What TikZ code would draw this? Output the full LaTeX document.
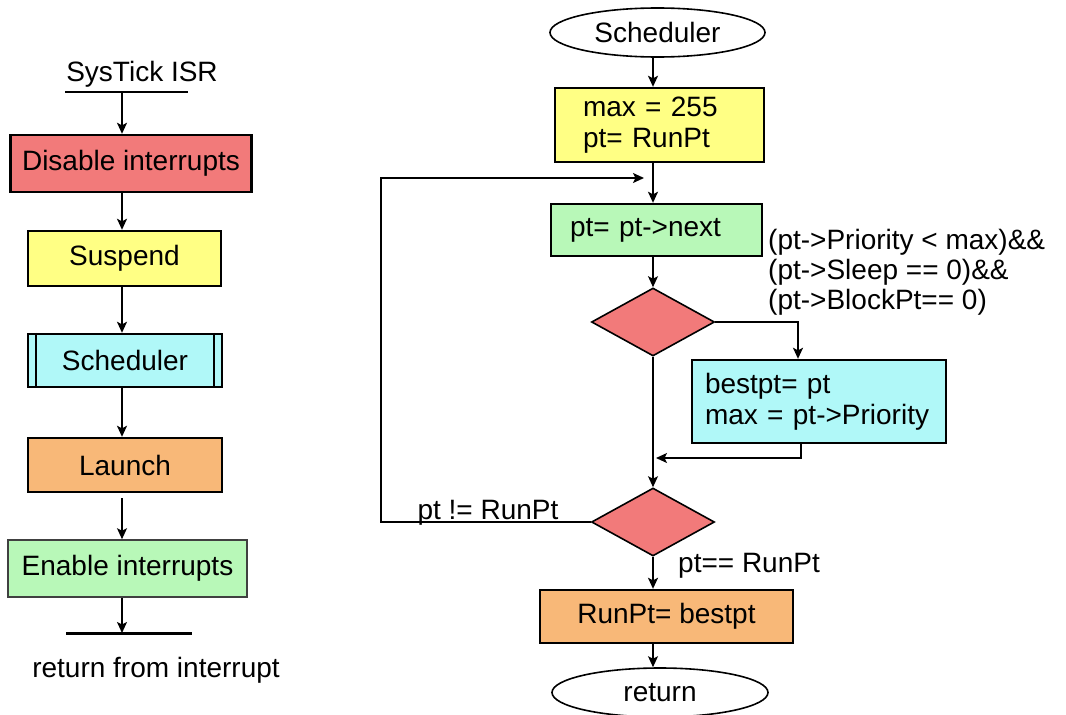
\documentclass[tikz,border=0pt]{standalone}
\usepackage{fontspec}
\setmainfont{Liberation Sans}
\usetikzlibrary{shapes.geometric,arrows.meta}

\definecolor{boxred}{HTML}{F27A7A}
\definecolor{boxyellow}{HTML}{FFFF84}
\definecolor{boxcyan}{HTML}{B0F8F8}
\definecolor{boxorange}{HTML}{F8B878}
\definecolor{boxgreen}{HTML}{B8F8B8}

\begin{document}
\begin{tikzpicture}[x=1pt,y=-1pt,
  every node/.style={font=\fontsize{28}{31}\selectfont, inner sep=0pt},
  flowbox/.style={rectangle, draw=black, line width=2.4pt},
  decision/.style={diamond, draw=black, line width=1.6pt, fill=boxred,
                   minimum width=123, minimum height=68},
  terminal/.style={ellipse, draw=black, line width=1.6pt,
                   minimum width=215, minimum height=49},
  conn/.style={line width=1.6pt},
  arr/.style={conn, -{Stealth[length=11pt,width=10pt,inset=2.5pt]}}]

\useasboundingbox (0,0) rectangle (1066,715);

% column axes
\coordinate (axL) at (122,0);
\coordinate (axR) at (653,0);

% ---------------- SysTick interrupt service routine ----------------
\node (isr) at (142,74) {SysTick ISR};
\coordinate (isrA) at (65,92);
\coordinate (isrB) at (188,92);
\draw[conn] (isrA) -- (isrB);

\node[flowbox, fill=boxred, minimum width=241, minimum height=57]
  (dis) at (131,163.5) {Disable interrupts};
\node[flowbox, fill=boxyellow, minimum width=193, minimum height=55]
  (sus) at (124.5,258.5) {Suspend};
\node[flowbox, fill=boxcyan, minimum width=194, minimum height=53]
  (sch) at (125,360.5) {Scheduler};
\draw[line width=2pt] ([xshift=9pt]sch.north west) -- ([xshift=9pt]sch.south west);
\draw[line width=2pt] ([xshift=-9pt]sch.north east) -- ([xshift=-9pt]sch.south east);
\node[flowbox, fill=boxorange, minimum width=194, minimum height=54]
  (lau) at (125,465) {Launch};
\node[flowbox, draw=black!75, line width=1.6pt, fill=boxgreen,
      minimum width=239, minimum height=57]
  (ena) at (127.5,568.5) {Enable interrupts};
\coordinate (retA) at (66,633);
\coordinate (retB) at (192,633);
\draw[line width=3pt] (retA) -- (retB);
\node (rti) at (156,670) {return from interrupt};

\draw[arr] (isrA -| axL) -- (dis.north -| axL);
\draw[arr] (dis.south -| axL) -- (sus.north -| axL);
\draw[arr] (sus.south -| axL) -- (sch.north -| axL);
\draw[arr] (sch.south -| axL) -- (lau.north -| axL);
\draw[arr] ([yshift=-5pt]lau.south -| axL) -- (ena.north -| axL);
\draw[arr] (ena.south -| axL) -- (retA -| axL);

% ---------------- Scheduler ----------------
\node[terminal] (sst) at (657.5,32.5) {Scheduler};
\node[flowbox, fill=boxyellow, minimum height=74, inner xsep=28pt,
      text width=153pt, align=left]
  (init) at (659.5,125) {max = 255\\pt= RunPt};
\coordinate (join) at (644,178);
\node[flowbox, fill=boxgreen, minimum height=52, inner xsep=19pt,
      text width=173pt, align=left]
  (nxt) at (656.5,230) {\mbox{pt= pt->next}};
\node[decision] (d1) at (653,322) {};
\node[anchor=north west, align=left, font=\fontsize{28}{30}\selectfont]
  (cond) at (768,229)
  {(pt->Priority < max)\&\&\\(pt->Sleep == 0)\&\&\\(pt->BlockPt== 0)};
\node[flowbox, fill=boxcyan, minimum height=83, inner xsep=13pt,
      text width=228pt, align=left]
  (best) at (819,401.5) {\mbox{bestpt= pt}\\\mbox{max = pt->Priority}};
\coordinate (bx) at (798,0);
\coordinate (mx) at (801,0);
\coordinate (merge) at (656,458);
\node[decision] (d2) at (653,522) {};
\coordinate (loopx) at (381,0);
\node[anchor=base] (ne) at (488,519) {pt != RunPt};
\node[anchor=west] (eq) at (678,566) {pt== RunPt};
\node[flowbox, fill=boxorange, minimum width=253, minimum height=53]
  (rp) at (666.5,616.5) {RunPt= bestpt};
\node[terminal, minimum width=216] (ret) at (660,692.5) {return};

\draw[arr] (sst.south -| axR) -- (init.north -| axR);
\draw[arr] (init.south -| axR) -- (nxt.north -| axR);
\draw[arr] (nxt.south -| axR) -- (d1.north);
\draw[arr] (d1.east) -| (best.north -| bx);
\draw[arr] (best.south -| mx) |- (merge);
\draw[arr] (d1.south) -- (d2.north);
\draw[arr] (d2.west) -| (loopx |- join) -- (join);
\draw[arr] (d2.south) -- (rp.north -| axR);
\draw[arr] (rp.south -| axR) -- (ret.north -| axR);

\end{tikzpicture}
\end{document}
